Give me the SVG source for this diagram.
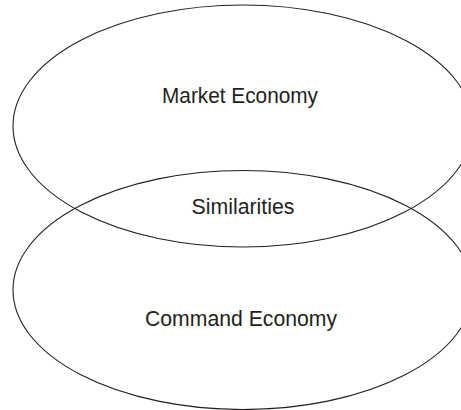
<svg xmlns="http://www.w3.org/2000/svg" width="461" height="410" viewBox="0 0 461 410">
<style>
.shape{fill:none;stroke:#231f20;stroke-width:1.1}
.lbl{font-family:"Liberation Sans",Arial,sans-serif;font-size:22px;fill:#231f20;text-anchor:middle}
</style>
<rect width="461" height="410" fill="#ffffff"/>
<g id="market">
<ellipse class="shape" cx="243" cy="126" rx="230" ry="121"/>
<text class="lbl" x="240" y="102.5" textLength="156" lengthAdjust="spacingAndGlyphs">Market Economy</text>
</g>
<g id="command">
<ellipse class="shape" cx="243" cy="290" rx="230" ry="119.5"/>
<text class="lbl" x="241" y="326" textLength="192" lengthAdjust="spacingAndGlyphs">Command Economy</text>
</g>
<g id="similarities">
<text class="lbl" x="243" y="214" textLength="103" lengthAdjust="spacingAndGlyphs">Similarities</text>
</g>
<g id="connectors"/>
</svg>
